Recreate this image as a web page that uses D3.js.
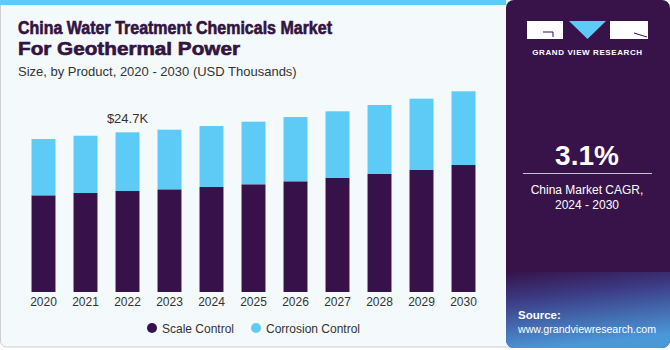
<!DOCTYPE html>
<html>
<head>
<meta charset="utf-8">
<title>China Water Treatment Chemicals Market</title>
<script src="https://d3js.org/d3.v7.min.js"></script>
<style>
  body { margin: 0; background: #fff; }
  text { font-family: "Liberation Sans", Arial, sans-serif; }
</style>
</head>
<body>
<div id="chart"></div>
<script>
const years = ["2020","2021","2022","2023","2024","2025","2026","2027","2028","2029","2030"];
const scaleControl = [14.95, 15.31, 15.62, 15.88, 16.24, 16.66, 17.12, 17.68, 18.30, 18.92, 19.64];
const corrosionControl = [8.71, 8.86, 9.08, 9.22, 9.43, 9.68, 9.94, 10.27, 10.62, 10.98, 11.40];
const seriesNames = ["Scale Control", "Corrosion Control"];
const colors = ["#37114a", "#5ecbf7"];

const width = 670, height = 350;
const svg = d3.select("#chart").append("svg")
    .attr("width", width).attr("height", height);

// left panel
svg.append("rect").attr("x", 0.5).attr("y", -10).attr("width", 520).attr("height", 357)
    .attr("rx", 6).attr("fill", "#f4f9fc").attr("stroke", "#cfcfcf");
svg.append("rect").attr("x", 0).attr("y", 0).attr("width", 506).attr("height", 5)
    .attr("fill", "#5ecbf7");

// right panel
const defs = svg.append("defs");
const grad = defs.append("linearGradient").attr("id", "srcGrad")
    .attr("x1", 0).attr("y1", 0).attr("x2", 0.25).attr("y2", 1);
grad.append("stop").attr("offset", "0%").attr("stop-color", "#37134a");
grad.append("stop").attr("offset", "35%").attr("stop-color", "#3b3a82");
grad.append("stop").attr("offset", "100%").attr("stop-color", "#4b98d8");
const clip = defs.append("clipPath").attr("id", "panelClip");
clip.append("rect").attr("x", 506).attr("y", 0).attr("width", 164).attr("height", 348).attr("rx", 8);
const panel = svg.append("g").attr("clip-path", "url(#panelClip)");
panel.append("rect").attr("x", 506).attr("y", 0).attr("width", 170).attr("height", 348).attr("fill", "#37134a");
panel.append("rect").attr("x", 506).attr("y", 272).attr("width", 170).attr("height", 76).attr("fill", "url(#srcGrad)");

// logo
const logo = svg.append("g");
logo.append("rect").attr("x", 527).attr("y", 21).attr("width", 36).attr("height", 18).attr("fill", "#fff");
logo.append("path").attr("d", "M569,21 L606,21 L587.5,39 Z").attr("fill", "#5ecbf7");
logo.append("rect").attr("x", 610).attr("y", 21).attr("width", 38).attr("height", 18).attr("fill", "#fff");
logo.append("path").attr("d", "M543,32 L553,32 L553,37").attr("fill", "none").attr("stroke", "#37134a").attr("stroke-width", 1);
logo.append("path").attr("d", "M634,33 L647,37").attr("fill", "none").attr("stroke", "#37134a").attr("stroke-width", 1);
svg.append("text").attr("x", 587.5).attr("y", 55).attr("text-anchor", "middle")
    .attr("fill", "#fff").attr("font-size", 8).attr("font-weight", "bold").attr("letter-spacing", 0.6)
    .text("GRAND VIEW RESEARCH");

// CAGR
svg.append("text").attr("x", 587).attr("y", 165).attr("text-anchor", "middle")
    .attr("fill", "#fff").attr("font-size", 28).attr("font-weight", "bold").text("3.1%");
svg.append("line").attr("x1", 523).attr("x2", 652).attr("y1", 173.5).attr("y2", 173.5)
    .attr("stroke", "#c9c0d4").attr("stroke-width", 1);
svg.append("text").attr("x", 587).attr("y", 194).attr("text-anchor", "middle")
    .attr("fill", "#fff").attr("font-size", 12).text("China Market CAGR,");
svg.append("text").attr("x", 587).attr("y", 209).attr("text-anchor", "middle")
    .attr("fill", "#fff").attr("font-size", 12).text("2024 - 2030");

// source
svg.append("text").attr("x", 518).attr("y", 319).attr("fill", "#fff")
    .attr("font-size", 11.5).attr("font-weight", "bold").text("Source:");
svg.append("text").attr("x", 518).attr("y", 333).attr("fill", "#fff")
    .attr("font-size", 11).attr("textLength", 138).attr("lengthAdjust", "spacingAndGlyphs")
    .text("www.grandviewresearch.com");

// titles
svg.append("text").attr("x", 18).attr("y", 34).attr("fill", "#33143f")
    .attr("stroke", "#33143f").attr("stroke-width", 0.6)
    .attr("font-size", 17.5).attr("font-weight", "bold")
    .attr("textLength", 314).attr("lengthAdjust", "spacingAndGlyphs")
    .text("China Water Treatment Chemicals Market");
svg.append("text").attr("x", 18).attr("y", 55).attr("fill", "#33143f")
    .attr("stroke", "#33143f").attr("stroke-width", 0.6)
    .attr("font-size", 17.5).attr("font-weight", "bold")
    .attr("textLength", 222).attr("lengthAdjust", "spacingAndGlyphs")
    .text("For Geothermal Power");
svg.append("text").attr("x", 18).attr("y", 76).attr("fill", "#333")
    .attr("font-size", 13).text("Size, by Product, 2020 - 2030 (USD Thousands)");

// chart
const data = years.map((y, i) => ({ year: y, scale: scaleControl[i], corrosion: corrosionControl[i] }));
const stack = d3.stack().keys(["scale", "corrosion"])(data);

const x = d3.scaleBand().domain(years).range([22.5, 484.5]).paddingInner(0.43).paddingOuter(0.215);
const y = d3.scaleLinear().domain([0, 24.7]).range([292, 132.3]);

const layers = svg.append("g").selectAll("g").data(stack).join("g")
    .attr("fill", (d, i) => colors[i]);
layers.selectAll("rect").data(d => d).join("rect")
    .attr("x", d => x(d.data.year))
    .attr("width", x.bandwidth())
    .attr("y", d => y(d[1]))
    .attr("height", d => y(d[0]) - y(d[1]));

const xAxis = svg.append("g").attr("transform", "translate(0,292)")
    .call(d3.axisBottom(x).tickSize(0).tickPadding(5));
xAxis.select(".domain").remove();
xAxis.selectAll("text").attr("font-size", 12).attr("fill", "#333")
    .attr("font-family", "'Liberation Sans', Arial, sans-serif");

// value label
const labelIdx = 2;
svg.append("text").attr("x", x(years[labelIdx]) + x.bandwidth() / 2)
    .attr("y", y(scaleControl[labelIdx] + corrosionControl[labelIdx]) - 9)
    .attr("text-anchor", "middle").attr("font-size", 13).attr("fill", "#333")
    .text("$" + (scaleControl[labelIdx] + corrosionControl[labelIdx]).toFixed(1) + "K");

// legend
const legendX = [152, 256];
const legend = svg.append("g").selectAll("g").data(seriesNames).join("g")
    .attr("transform", (d, i) => `translate(${legendX[i]},328)`);
legend.append("circle").attr("r", 5).attr("fill", (d, i) => colors[i]);
legend.append("text").attr("x", 10).attr("y", 4.5).attr("font-size", 12).attr("fill", "#333").text(d => d);
</script>
</body>
</html>
